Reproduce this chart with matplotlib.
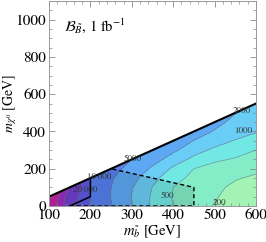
import numpy as np
import matplotlib
matplotlib.use("Agg")
import matplotlib.pyplot as plt
from matplotlib.patches import Polygon
from matplotlib.ticker import MultipleLocator

plt.rcParams['font.family'] = ['STIXGeneral', 'DejaVu Serif']
plt.rcParams['mathtext.fontset'] = 'stix'

# grid of masses (GeV)
m_sb = [100, 150, 200, 250, 300, 350, 400, 450, 500, 550, 600]
m_lsp = [0, 50, 100, 150, 200, 250, 300, 350, 400, 450, 500, 550]

# estimated event counts at the grid nodes (one row per m_lsp value)
events_y0 = [200000, 30000, 10200, 5100, 2000, 870, 490, 310, 190, 130, 112]
events_y50 = [250000, 31000, 10000, 4900, 1950, 910, 480, 320, 215, 150, 120]
events_y100 = [316000, 48000, 10000, 5000, 2100, 980, 500, 355, 245, 165, 135]
events_y150 = [400000, 63000, 10000, 5500, 2570, 1230, 650, 410, 295, 215, 175]
events_y200 = [400000, 80000, 11200, 7100, 3550, 1740, 890, 500, 390, 310, 240]
events_y250 = [400000, 80000, 15800, 8900, 5000, 2700, 1450, 830, 560, 470, 415]
events_y300 = [400000, 80000, 20000, 10000, 7100, 4000, 2290, 1320, 870, 660, 500]
events_y350 = [400000, 80000, 20000, 10000, 7900, 5600, 3390, 1950, 1350, 955, 740]
events_y400 = [400000, 80000, 20000, 10000, 7900, 6300, 4470, 2950, 1900, 1410, 1050]
events_y450 = [400000, 80000, 20000, 10000, 7900, 6300, 5000, 4000, 2400, 1700, 1320]
events_y500 = [400000, 80000, 20000, 10000, 7900, 6300, 5000, 4000, 3160, 2040, 1580]
events_y550 = [400000, 80000, 20000, 10000, 7900, 6300, 5000, 4000, 3160, 2820, 1860]

contour_levels = [200, 500, 1000, 2000, 5000, 10000, 20000, 50000, 100000]
label_texts = ["200", "500", "1000", "2000", "5000", "10\u2009000", "20\u2009000"]
label_pos_x = [513, 385, 569, 566, 302, 222, 188]
label_pos_y = [16, 53, 401, 508, 252, 155, 85]

# kinematic boundary and search regions
diag_x = [100, 600]
diag_y = [50, 550]
dashed_x = [150, 450, 450, 250]
dashed_y = [0, 0, 100, 200]
solid_x = [200, 200, 150]
solid_y = [150, 50, 0]

band_colors = ['#A2F3B4', '#84EDC8', '#72E8E4', '#6ACDF6', '#5EA8F3',
               '#5580EE', '#5C5AE2', '#7040D2', '#9A30C2', '#C423A8']

Z = np.log10(np.array([events_y0, events_y50, events_y100, events_y150, events_y200,
                       events_y250, events_y300, events_y350, events_y400,
                       events_y450, events_y500, events_y550], dtype=float))
X, Y = np.meshgrid(m_sb, m_lsp)

fig = plt.figure(figsize=(2.66, 2.42), dpi=100)
ax = fig.add_axes([49/266, 36/242, 207/266, 205/242])

lv = np.log10(contour_levels)
fill_levels = np.concatenate([[-1], lv, [10]])
cf = ax.contourf(X, Y, Z, levels=fill_levels, colors=band_colors)
cl = ax.contour(X, Y, Z, levels=lv, colors='#6a6a6a', linewidths=0.45, alpha=0.7)

clip = Polygon([(diag_x[0], 0), (diag_x[0], diag_y[0]), (diag_x[1], diag_y[1]), (diag_x[1], 0)],
               closed=True, transform=ax.transData, facecolor='none', edgecolor='none')
cf.set_clip_path(clip)
cl.set_clip_path(clip)

# shaded search regions
dash_poly = list(zip(dashed_x, dashed_y)) + [(200, 150)] + list(zip(solid_x[1:], solid_y[1:]))
ax.add_patch(Polygon(dash_poly, closed=True, facecolor='black', alpha=0.10, edgecolor='none'))
solid_poly = [(100, 0), (100, 50), (200, 150), (200, 50), (150, 0)]
ax.add_patch(Polygon(solid_poly, closed=True, facecolor='black', alpha=0.10, edgecolor='none'))

ax.plot(dashed_x, dashed_y, color='black', lw=1.0, ls=(0, (3, 2)), clip_on=False)
ax.plot(solid_x, solid_y, color='black', lw=1.1)
ax.plot(diag_x, diag_y, color='black', lw=1.5)

for t, x, y in zip(label_texts, label_pos_x, label_pos_y):
    ax.text(x, y, t, fontsize=6.5, color='#333333', ha='center', va='center')

ax.text(137, 968, r'$\mathcal{B}_{\tilde{B}}$, 1 fb$^{-1}$', fontsize=10.5, va='center', ha='left')

ax.set_xlim(100, 600)
ax.set_ylim(0, 1100)
ax.xaxis.set_major_locator(MultipleLocator(100))
ax.xaxis.set_minor_locator(MultipleLocator(20))
ax.yaxis.set_major_locator(MultipleLocator(200))
ax.yaxis.set_minor_locator(MultipleLocator(50))
ax.tick_params(which='both', direction='in', top=True, right=True, labelsize=11,
               color='#888888', pad=2)
ax.tick_params(which='major', length=4, width=0.6)
ax.tick_params(which='minor', length=2, width=0.5)
for s in ax.spines.values():
    s.set_color('#999999')
    s.set_linewidth(0.7)

ax.set_xlabel(r'$m_{\tilde{b}}$ [GeV]', fontsize=10.5, labelpad=1)
ax.set_ylabel(r'$m_{\chi^0}$ [GeV]', fontsize=10, va='center')
ax.yaxis.set_label_coords(-0.19, 0.5)

fig.savefig('out.png', dpi=100)
